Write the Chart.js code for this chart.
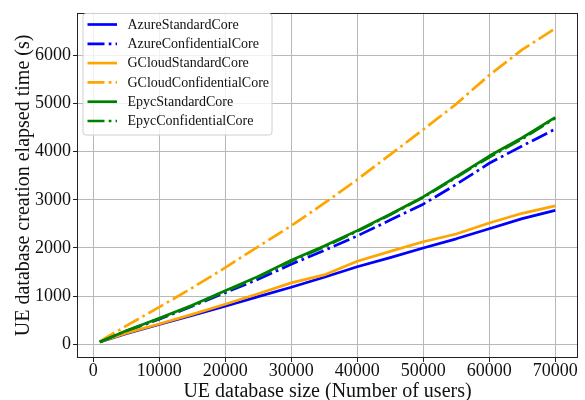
<!DOCTYPE html>
<html>
<head>
<meta charset="utf-8">
<script src="https://cdn.jsdelivr.net/npm/chart.js@4/dist/chart.umd.min.js"></script>
<style>
  html, body { margin: 0; padding: 0; background: #fff; }
  #wrap { width: 585px; height: 400px; }
</style>
</head>
<body>
<div id="wrap"><canvas id="c" width="585" height="400"></canvas></div>
<script>
// ---- Data ----
const userCounts = [1000, 5000, 10000, 15000, 20000, 25000, 30000, 35000, 40000, 45000, 50000, 55000, 60000, 65000, 70000];
const azureStandard     = [45, 220, 410, 600, 790, 990, 1185, 1390, 1610, 1800, 2000, 2190, 2400, 2610, 2780];
const azureConfidential = [45, 270, 520, 790, 1070, 1350, 1660, 1950, 2250, 2580, 2910, 3320, 3760, 4120, 4470];
const gcloudStandard    = [50, 230, 420, 620, 830, 1050, 1275, 1440, 1725, 1930, 2130, 2290, 2520, 2720, 2875];
const gcloudConfidential= [60, 380, 770, 1170, 1590, 2030, 2460, 2930, 3420, 3940, 4460, 4990, 5590, 6120, 6560];
const epycStandard      = [45, 280, 540, 810, 1110, 1410, 1745, 2040, 2360, 2700, 3060, 3480, 3910, 4290, 4715];
const epycConfidential  = [45, 275, 530, 800, 1095, 1395, 1725, 2020, 2345, 2690, 3050, 3465, 3885, 4265, 4700];
const seriesLabels = ['AzureStandardCore', 'AzureConfidentialCore', 'GCloudStandardCore', 'GCloudConfidentialCore', 'EpycStandardCore', 'EpycConfidentialCore'];
const xTickValues = [0, 10000, 20000, 30000, 40000, 50000, 60000, 70000];
const yTickValues = [0, 1000, 2000, 3000, 4000, 5000, 6000];
const xTitle = 'UE database size (Number of users)';
const yTitle = 'UE database creation elapsed time (s)';

// ---- Styling ----
const seriesValues = [azureStandard, azureConfidential, gcloudStandard, gcloudConfidential, epycStandard, epycConfidential];
const seriesColors = ['#0000ff', '#0000ff', '#ffa500', '#ffa500', '#008000', '#008000'];
const dashDot = [17, 4.2, 2.7, 4.2];
const seriesDash = [[], dashDot, [], dashDot, [], dashDot];
const LW = 2.7;
const SERIF = "'Liberation Serif', 'DejaVu Serif', serif";

const datasets = seriesValues.map((vals, i) => ({
  label: seriesLabels[i],
  data: userCounts.map((x, j) => ({ x: x, y: vals[j] })),
  borderColor: seriesColors[i],
  backgroundColor: seriesColors[i],
  borderWidth: LW,
  borderDash: seriesDash[i],
  borderCapStyle: 'butt',
  borderJoinStyle: 'round',
  pointRadius: 0,
  pointHoverRadius: 0,
  tension: 0,
  fill: false,
  order: -i
}));

const framePlugin = {
  id: 'frameAndLegend',
  afterDatasetsDraw(chart) {
    const { ctx, chartArea: a } = chart;
    ctx.save();
    // frame
    ctx.strokeStyle = '#222';
    ctx.lineWidth = 1;
    ctx.setLineDash([]);
    ctx.strokeRect(Math.round(a.left) + 0.5, Math.round(a.top) + 0.5, Math.round(a.right - a.left) - 1, Math.round(a.bottom - a.top) - 1);

    // legend
    const bx = 83, by = 13.5, bw = 189, bh = 121.5, r = 3;
    ctx.beginPath();
    ctx.moveTo(bx + r, by);
    ctx.lineTo(bx + bw - r, by);
    ctx.arcTo(bx + bw, by, bx + bw, by + r, r);
    ctx.lineTo(bx + bw, by + bh - r);
    ctx.arcTo(bx + bw, by + bh, bx + bw - r, by + bh, r);
    ctx.lineTo(bx + r, by + bh);
    ctx.arcTo(bx, by + bh, bx, by + bh - r, r);
    ctx.lineTo(bx, by + r);
    ctx.arcTo(bx, by, bx + r, by, r);
    ctx.closePath();
    ctx.fillStyle = 'rgba(255,255,255,0.8)';
    ctx.fill();
    ctx.strokeStyle = '#d0d0d0';
    ctx.lineWidth = 1;
    ctx.stroke();

    ctx.font = "14px " + SERIF;
    ctx.textBaseline = 'middle';
    ctx.textAlign = 'left';
    chart.data.datasets.forEach((ds, i) => {
      const y = 24.5 + i * 19.3;
      ctx.beginPath();
      ctx.setLineDash(ds.borderDash);
      ctx.lineCap = 'butt';
      ctx.strokeStyle = ds.borderColor;
      ctx.lineWidth = LW;
      ctx.moveTo(87.5, y);
      ctx.lineTo(117, y);
      ctx.stroke();
      ctx.setLineDash([]);
      ctx.fillStyle = '#111';
      ctx.fillText(ds.label, 127.5, y + 0.5);
    });
    ctx.restore();
  }
};

new Chart(document.getElementById('c'), {
  type: 'line',
  data: { datasets: datasets },
  plugins: [framePlugin],
  options: {
    responsive: false,
    animation: false,
    events: [],
    layout: { padding: { left: 0, right: 7, top: 7, bottom: 0 } },
    plugins: { legend: { display: false }, tooltip: { enabled: false } },
    scales: {
      x: {
        type: 'linear',
        min: -2450,
        max: 73450,
        afterFit(scale) { scale.height = 42; },
        afterBuildTicks(scale) { scale.ticks = xTickValues.map(v => ({ value: v })); },
        grid: { color: '#b8b8b8', lineWidth: 1, tickColor: '#222', tickLength: 4, drawTicks: true },
        border: { display: false },
        ticks: {
          autoSkip: false, maxRotation: 0, minRotation: 0, padding: 0,
          color: '#111',
          font: { family: SERIF, size: 18, lineHeight: 1 },
          callback: v => String(v)
        },
        title: {
          display: true, text: xTitle, color: '#111',
          font: { family: SERIF, size: 20, lineHeight: 0.8 },
          padding: { top: 0, bottom: 0 }
        }
      },
      y: {
        type: 'linear',
        min: -286,
        max: 6886,
        afterFit(scale) { scale.width = 77; },
        afterBuildTicks(scale) { scale.ticks = yTickValues.map(v => ({ value: v })); },
        grid: { color: '#b8b8b8', lineWidth: 1, tickColor: '#222', tickLength: 4, drawTicks: true },
        border: { display: false },
        ticks: {
          autoSkip: false, padding: 2,
          color: '#111',
          font: { family: SERIF, size: 18 },
          callback: v => String(v)
        },
        title: {
          display: true, text: yTitle, color: '#111',
          font: { family: SERIF, size: 20, lineHeight: 1 },
          padding: { top: 14, bottom: 0 }
        }
      }
    }
  }
});
</script>
</body>
</html>
